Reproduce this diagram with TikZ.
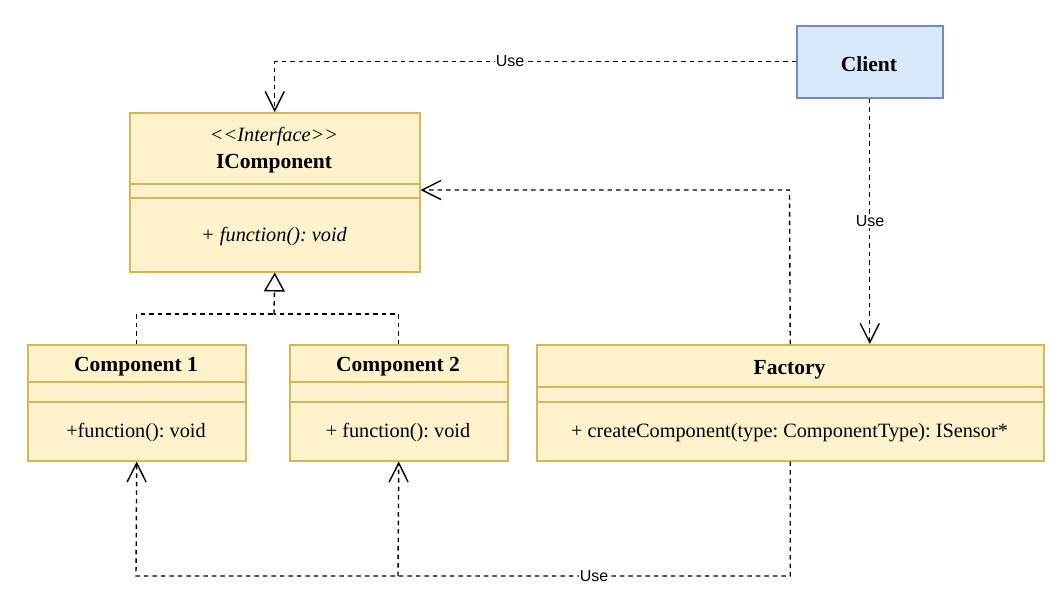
\documentclass[tikz,border=0pt]{standalone}
\usepackage{fontspec}
\setmainfont{Liberation Serif}
\newfontfamily\sansuse{Liberation Sans}
\usetikzlibrary{arrows.meta,calc}
\frenchspacing
\definecolor{yfill}{HTML}{FFF2CC}
\definecolor{ydraw}{HTML}{D6B656}
\definecolor{bfill}{HTML}{DAE8FC}
\definecolor{bdraw}{HTML}{6C8EBF}
\tikzset{
  classbox/.style={draw=ydraw,fill=yfill,line width=1.5pt,inner sep=0pt,anchor=north west},
  clientbox/.style={draw=bdraw,fill=bfill,line width=1.5pt,inner sep=0pt,anchor=north west},
  divider/.style={draw=ydraw,line width=1.5pt},
  titletxt/.style={font=\frenchspacing\fontsize{21.5}{25}\selectfont\bfseries,inner sep=0pt},
  bodytxt/.style={font=\frenchspacing\fontsize{20.3}{25}\selectfont,inner sep=0pt},
  itxt/.style={font=\frenchspacing\fontsize{20.3}{25}\selectfont\itshape,inner sep=0pt},
  conn/.style={draw=black,line width=1.4pt,dash pattern=on 4.5pt off 4pt},
  usearrow/.style={conn,-{Straight Barb[length=19pt,width=19pt,line width=1.4pt]}},
  realize/.style={conn,-{Triangle[open,length=19pt,width=21pt,line width=1.4pt,fill=white]}},
  uselabel/.style={font=\sansuse\fontsize{16}{18}\selectfont,fill=white,inner sep=1pt}
}
\begin{document}
\begin{tikzpicture}[x=1pt,y=-1pt]
\useasboundingbox (0,0) rectangle (1053,606);
% boxes
\node[clientbox,minimum width=146pt,minimum height=72pt] (client) at (796,25) {};
\node[titletxt] (clienttxt) at (869,64) {Client};

\node[classbox,minimum width=290pt,minimum height=159pt] (icomp) at (129,112) {};
\node[itxt] (stereo) at (274,137) {<{}<Interface>{}>};
\node[titletxt] (icomptxt) at (274,163.5) {IComponent};
\draw[divider] (129,184) -- (419,184);
\draw[divider] (129,198) -- (419,198);
\node[itxt] (icompfn) at (274,237) {+ function(): void};

\node[classbox,minimum width=218pt,minimum height=116pt] (c1) at (27,344) {};
\node[titletxt] (c1txt) at (136,366.5) {Component 1};
\draw[divider] (27,382) -- (245,382);
\draw[divider] (27,402) -- (245,402);
\node[bodytxt] (c1fn) at (136,433) {+function(): void};

\node[classbox,minimum width=218pt,minimum height=116pt] (c2) at (289,344) {};
\node[titletxt] (c2txt) at (398,366.5) {Component 2};
\draw[divider] (289,382) -- (507,382);
\draw[divider] (289,402) -- (507,402);
\node[bodytxt] (c2fn) at (398,433) {+ function(): void};

\node[classbox,minimum width=507pt,minimum height=116pt] (factory) at (536,344) {};
\node[titletxt] (factorytxt) at (789.5,369.5) {Factory};
\draw[divider] (536,387) -- (1043,387);
\draw[divider] (536,402) -- (1043,402);
\node[bodytxt] (factoryfn) at (789.5,433) {+ createComponent(type: ComponentType): ISensor*};

% connectors
\draw[usearrow] (client.west) -| (icomp.north);
\node[uselabel] (use1) at (510,61) {Use};

\draw[usearrow] (client.south) -- (client.south |- factory.north);
\node[uselabel] (use2) at (870,221) {Use};

\coordinate (fi) at (789.5,190);
\draw[usearrow] (factory.north) -- (fi) -- (icomp.east |- fi);

\coordinate (junc) at (274,314);
\draw[conn] (c1.north) |- (junc);
\draw[conn] (c2.north) |- (junc);
\draw[realize] (junc) -- (icomp.south);

\coordinate (b1) at (136,576);
\coordinate (b2) at (398,576);
\draw[usearrow] (factory.south) |- (b1) -- (c1.south);
\draw[usearrow] (b2) -- (c2.south);
\node[uselabel] (use3) at (594,576) {Use};
\end{tikzpicture}
\end{document}
